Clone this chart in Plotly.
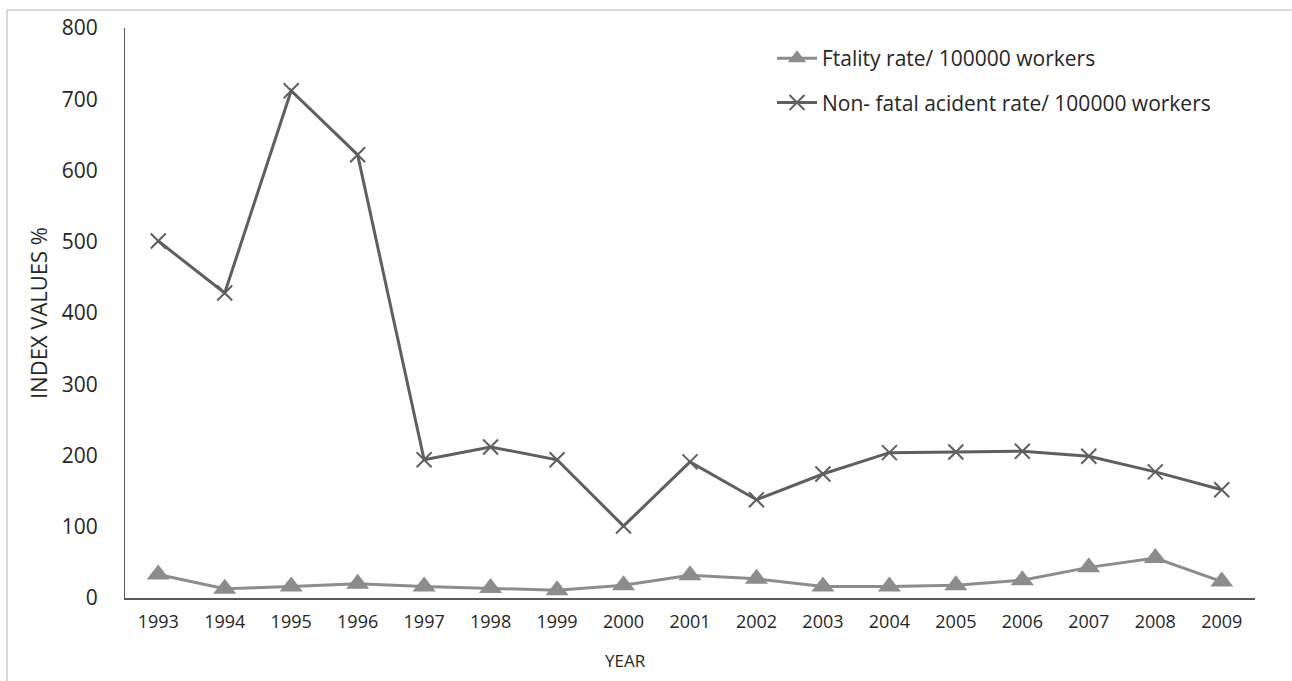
import plotly.graph_objects as go

years = [str(y) for y in range(1993, 2010)]
fatality_rate = [33, 13, 16, 20, 16, 14, 11, 18, 32, 27, 16, 16, 18, 25, 43, 56, 23]
non_fatal_rate = [501, 428, 712, 622, 194, 212, 194, 101, 191, 138, 174, 204, 205, 206, 199, 177, 152]
y_ticks = [0, 100, 200, 300, 400, 500, 600, 700, 800]

FONT = "Open Sans"
TXT = "#262626"
W, H = 1292, 681
L, R, T, B = 125, 37, 28, 83

fig = go.Figure()
fig.add_trace(go.Scatter(
    x=years, y=fatality_rate, mode="lines+markers",
    name="Ftality rate/ 100000 workers", legendgroup="a",
    line=dict(color="#8c8c8c", width=3),
    marker=dict(symbol="triangle-up", size=20, color="#8c8c8c"),
))
fig.add_trace(go.Scatter(
    x=years, y=non_fatal_rate, mode="lines+markers",
    name="Non- fatal acident rate/ 100000 workers", legendgroup="b",
    line=dict(color="#5f5f5f", width=3),
    marker=dict(symbol="x-thin", size=15, color="#5f5f5f",
                line=dict(width=2, color="#5f5f5f")),
))

pw = W - L - R
ph = H - T - B


def px_x(p):
    return (p - L) / pw


def px_y(p):
    return (H - B - p) / ph


# light outer frame around the chart area
fig.add_shape(type="rect", xref="paper", yref="paper",
              x0=px_x(7), x1=px_x(W + 20), y0=px_y(H + 20), y1=px_y(10),
              line=dict(color="#d9d9d9", width=2), layer="below")

fig.add_annotation(text="YEAR", xref="paper", yref="paper",
                   x=px_x(625), y=px_y(661), xanchor="center", yanchor="middle",
                   showarrow=False,
                   font=dict(family=FONT, size=17, color=TXT))

fig.update_layout(
    width=W, height=H,
    margin=dict(l=L, r=R, t=T, b=B),
    paper_bgcolor="white", plot_bgcolor="white",
    font=dict(family=FONT, color=TXT, size=16),
    showlegend=True,
    legend=dict(x=px_x(772), y=px_y(38), xanchor="left", yanchor="top",
                font=dict(size=21, color=TXT), bgcolor="rgba(0,0,0,0)",
                itemwidth=40, tracegroupgap=14, traceorder="grouped"),
    xaxis=dict(
        type="category", range=[-0.5, 16.5], showgrid=False, zeroline=False,
        showline=True, linecolor="#595959", linewidth=2,
        ticks="outside", ticklen=6, tickcolor="rgba(0,0,0,0)",
        tickfont=dict(size=18, color=TXT),
    ),
    yaxis=dict(
        range=[0, 800], tickvals=y_ticks, showgrid=False, zeroline=False,
        showline=True, linecolor="#595959", linewidth=1,
        ticks="outside", ticklen=22, tickcolor="rgba(0,0,0,0)",
        tickfont=dict(size=21, color=TXT),
        title=dict(text="INDEX VALUES %", font=dict(size=22, color=TXT), standoff=8),
    ),
)

fig.write_html("out.html")
